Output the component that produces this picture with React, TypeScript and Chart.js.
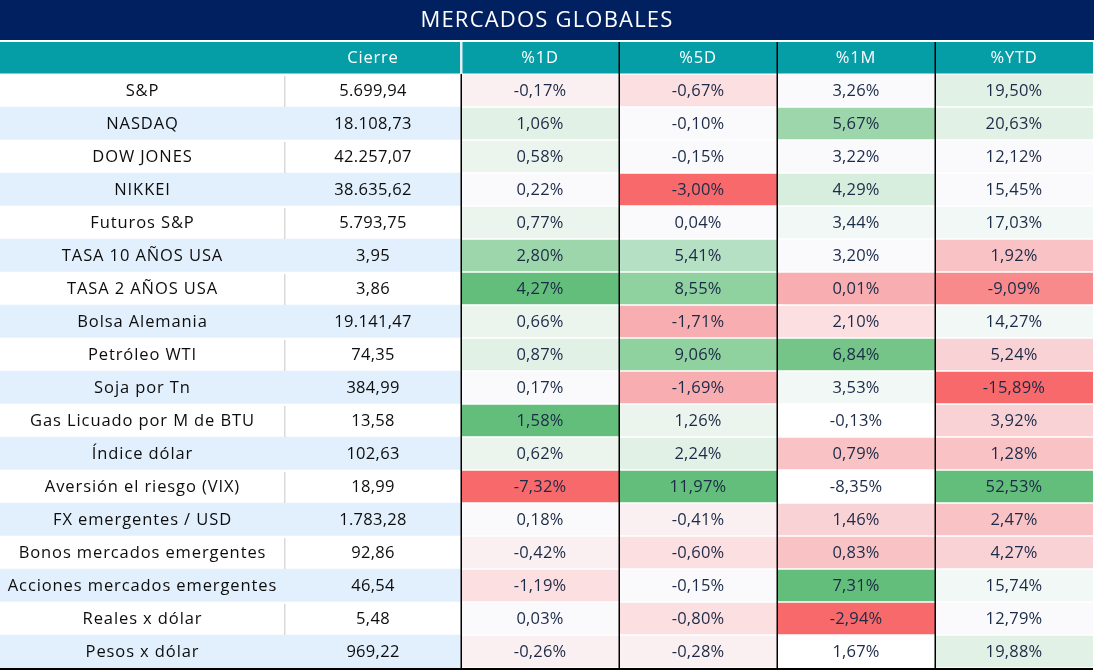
import React, { useEffect, useRef } from 'react';
import { Chart, registerables } from 'chart.js';

Chart.register(...registerables);

// ---------- data ----------
const TITLE = 'MERCADOS GLOBALES';
const HEADERS = ['', 'Cierre', '%1D', '%5D', '%1M', '%YTD'];
const ASSETS = [
  'S&P', 'NASDAQ', 'DOW JONES', 'NIKKEI', 'Futuros S&P', 'TASA 10 AÑOS USA',
  'TASA 2 AÑOS USA', 'Bolsa Alemania', 'Petróleo WTI', 'Soja por Tn',
  'Gas Licuado por M de BTU', 'Índice dólar', 'Aversión el riesgo (VIX)',
  'FX emergentes / USD', 'Bonos mercados emergentes', 'Acciones mercados emergentes',
  'Reales x dólar', 'Pesos x dólar',
];
const CIERRE = [5699.94, 18108.73, 42257.07, 38635.62, 5793.75, 3.95, 3.86, 19141.47, 74.35, 384.99, 13.58, 102.63, 18.99, 1783.28, 92.86, 46.54, 5.48, 969.22];
const PCT_1D = [-0.17, 1.06, 0.58, 0.22, 0.77, 2.80, 4.27, 0.66, 0.87, 0.17, 1.58, 0.62, -7.32, 0.18, -0.42, -1.19, 0.03, -0.26];
const PCT_5D = [-0.67, -0.10, -0.15, -3.00, 0.04, 5.41, 8.55, -1.71, 9.06, -1.69, 1.26, 2.24, 11.97, -0.41, -0.60, -0.15, -0.80, -0.28];
const PCT_1M = [3.26, 5.67, 3.22, 4.29, 3.44, 3.20, 0.01, 2.10, 6.84, 3.53, -0.13, 0.79, -8.35, 1.46, 0.83, 7.31, -2.94, 1.67];
const PCT_YTD = [19.50, 20.63, 12.12, 15.45, 17.03, 1.92, -9.09, 14.27, 5.24, -15.89, 3.92, 1.28, 52.53, 2.47, 4.27, 15.74, 12.79, 19.88];

// ---------- styles ----------
const HEAT: Record<string, string> = {
  G5: '#63BE7B', G4: '#75C589', G3: '#90D1A0', G3b: '#9ED6AC', G2: '#B6E0C3',
  G1: '#D7EEDF', G0: '#E2F1E6', G00: '#EBF5EE', g000: '#F2F8F5', W: '#FAFAFD',
  W2: '#FFFFFF', R00: '#FAF0F2', R0: '#FCDFE1', R1: '#F9D2D5', R2: '#F9C3C6',
  R3: '#F8ADB0', R4: '#F88A8C', R5: '#F8696B',
};
const SHADE_1D = ['R00', 'G0', 'G00', 'W', 'G00', 'G3b', 'G5', 'G00', 'G0', 'W', 'G5', 'G00', 'R5', 'W', 'R00', 'R0', 'W', 'R00'];
const SHADE_5D = ['R0', 'W', 'W', 'R5', 'W', 'G2', 'G3', 'R3', 'G3', 'R3', 'G00', 'G0', 'G5', 'R00', 'R0', 'W', 'R0', 'R00'];
const SHADE_1M = ['W', 'G3b', 'W', 'G1', 'g000', 'W', 'R3', 'R0', 'G4', 'g000', 'W2', 'R2', 'W2', 'R1', 'R2', 'G5', 'R5', 'W2'];
const SHADE_YTD = ['G0', 'G0', 'W', 'W', 'g000', 'R2', 'R4', 'g000', 'R1', 'R5', 'R1', 'R2', 'G5', 'R2', 'R1', 'g000', 'W', 'G0'];

const W = 1094;
const H = 670;
const COL_EDGES = [0, 285, 461, 619, 777, 935, 1093];
const NAVY = '#002060';
const TEAL = '#069EA6';
const ROW_BLUE = '#E2F0FD';
const FONT = '"Open Sans", "DejaVu Sans", sans-serif';

function fmt(n: number, suffix = ''): string {
  const [int, dec] = Math.abs(n).toFixed(2).split('.');
  const grouped = int.replace(/\B(?=(\d{3})+(?!\d))/g, '.');
  return (n < 0 ? '-' : '') + grouped + ',' + dec + suffix;
}

const PCT_COLS = [PCT_1D, PCT_5D, PCT_1M, PCT_YTD];
const SHADE_COLS = [SHADE_1D, SHADE_5D, SHADE_1M, SHADE_YTD];

const tablePlugin = {
  id: 'tablePlugin',
  beforeDraw(chart: any) {
    const ctx = chart.ctx as CanvasRenderingContext2D;
    const x = chart.scales.x;
    ctx.save();
    ctx.fillStyle = '#FFFFFF';
    ctx.fillRect(0, 0, W, H);
    // title bar
    ctx.fillStyle = NAVY;
    ctx.fillRect(0, 0, W, 40);
    ctx.fillStyle = '#FFFFFF';
    ctx.font = `22px ${FONT}`;
    (ctx as any).letterSpacing = '1.2px';
    ctx.textAlign = 'center';
    ctx.textBaseline = 'middle';
    ctx.fillText(TITLE, W / 2, 21);
    // header bar
    ctx.fillStyle = TEAL;
    ctx.fillRect(0, 42, x.getPixelForValue(COL_EDGES[6]), 31.5);
    ctx.font = `16.5px ${FONT}`;
    (ctx as any).letterSpacing = '0.8px';
    ctx.fillStyle = '#FFFFFF';
    for (let j = 0; j < HEADERS.length; j++) {
      const cx = x.getPixelForValue((COL_EDGES[j] + COL_EDGES[j + 1]) / 2);
      ctx.fillText(HEADERS[j], cx, 58.5);
    }
    // header separators
    ctx.fillStyle = '#E2EEF8';
    ctx.fillRect(x.getPixelForValue(COL_EDGES[2]) - 1, 42, 2.5, 32);
    ctx.fillStyle = '#000000';
    for (let j = 3; j <= 5; j++) {
      ctx.fillRect(x.getPixelForValue(COL_EDGES[j]) - 0.5, 42, 1.5, 32);
    }
    ctx.restore();
  },
  afterDatasetsDraw(chart: any) {
    const ctx = chart.ctx as CanvasRenderingContext2D;
    const x = chart.scales.x;
    const y = chart.scales.y;
    const area = chart.chartArea;
    const band = (area.bottom - area.top) / ASSETS.length;
    ctx.save();
    // gray separator between label and Cierre columns in white rows
    ctx.fillStyle = '#D9D9D9';
    for (let i = 0; i < ASSETS.length; i++) {
      if (i % 2 === 0) {
        const cy = y.getPixelForValue(i);
        ctx.fillRect(x.getPixelForValue(COL_EDGES[1]) - 1, cy - band / 2 + 2, 1.5, band - 2);
      }
    }
    // black vertical lines
    ctx.fillStyle = '#000000';
    for (let j = 2; j <= 5; j++) {
      ctx.fillRect(x.getPixelForValue(COL_EDGES[j]) - 0.5, area.top, 1.5, area.bottom - area.top);
    }
    // bottom rule
    ctx.fillRect(0, area.bottom, x.getPixelForValue(COL_EDGES[6]), 2);

    ctx.textAlign = 'center';
    ctx.textBaseline = 'middle';
    for (let i = 0; i < ASSETS.length; i++) {
      const cy = y.getPixelForValue(i) + 1;
      ctx.fillStyle = '#0D0D0D';
      ctx.font = `500 16.5px ${FONT}`;
      (ctx as any).letterSpacing = '0.9px';
      ctx.fillText(ASSETS[i], x.getPixelForValue((COL_EDGES[0] + COL_EDGES[1]) / 2), cy);
      (ctx as any).letterSpacing = '0.3px';
      ctx.fillText(fmt(CIERRE[i]), x.getPixelForValue((COL_EDGES[1] + COL_EDGES[2]) / 2), cy);
      ctx.fillStyle = '#1B2A47';
      ctx.font = `16.5px ${FONT}`;
      (ctx as any).letterSpacing = '0.2px';
      for (let k = 0; k < 4; k++) {
        const cx = x.getPixelForValue((COL_EDGES[k + 2] + COL_EDGES[k + 3]) / 2);
        ctx.fillText(fmt(PCT_COLS[k][i], '%'), cx, cy);
      }
    }
    ctx.restore();
  },
};

export default function App() {
  const canvasRef = useRef<HTMLCanvasElement | null>(null);

  useEffect(() => {
    const canvas = canvasRef.current;
    if (!canvas) return;
    const rowBg = ASSETS.map((_, i) => (i % 2 === 1 ? ROW_BLUE : '#FFFFFF'));
    const datasets: any[] = [
      {
        label: 'Activo',
        data: ASSETS.map(() => [COL_EDGES[0], COL_EDGES[1]]),
        backgroundColor: rowBg,
        borderWidth: 0,
        grouped: false,
      },
      {
        label: 'Cierre',
        data: ASSETS.map(() => [COL_EDGES[1], COL_EDGES[2]]),
        backgroundColor: rowBg,
        borderWidth: 0,
        grouped: false,
      },
    ];
    for (let k = 0; k < 4; k++) {
      datasets.push({
        label: HEADERS[k + 2],
        data: ASSETS.map(() => [COL_EDGES[k + 2], COL_EDGES[k + 3]]),
        backgroundColor: SHADE_COLS[k].map((s) => HEAT[s]),
        borderColor: '#FFFFFF',
        borderWidth: { top: 1, bottom: 1, left: 0, right: 0 },
        borderSkipped: false,
        grouped: false,
      });
    }
    const chart = new Chart(canvas, {
      type: 'bar',
      data: { labels: ASSETS, datasets },
      options: {
        animation: false,
        responsive: false,
        maintainAspectRatio: false,
        indexAxis: 'y',
        events: [],
        layout: { padding: { top: 74, bottom: 2, left: 0, right: 0 } },
        datasets: { bar: { barPercentage: 1, categoryPercentage: 1 } },
        scales: {
          x: { type: 'linear', min: 0, max: W, display: false },
          y: { type: 'category', display: false, offset: true },
        },
        plugins: {
          legend: { display: false },
          tooltip: { enabled: false },
          title: { display: false },
        },
      } as any,
      plugins: [tablePlugin],
    });
    return () => chart.destroy();
  }, []);

  return (
    <div style={{ position: 'fixed', left: 0, top: 0, width: W, height: H, background: '#fff' }}>
      <canvas ref={canvasRef} width={W} height={H} style={{ width: W, height: H, display: 'block' }} />
    </div>
  );
}
